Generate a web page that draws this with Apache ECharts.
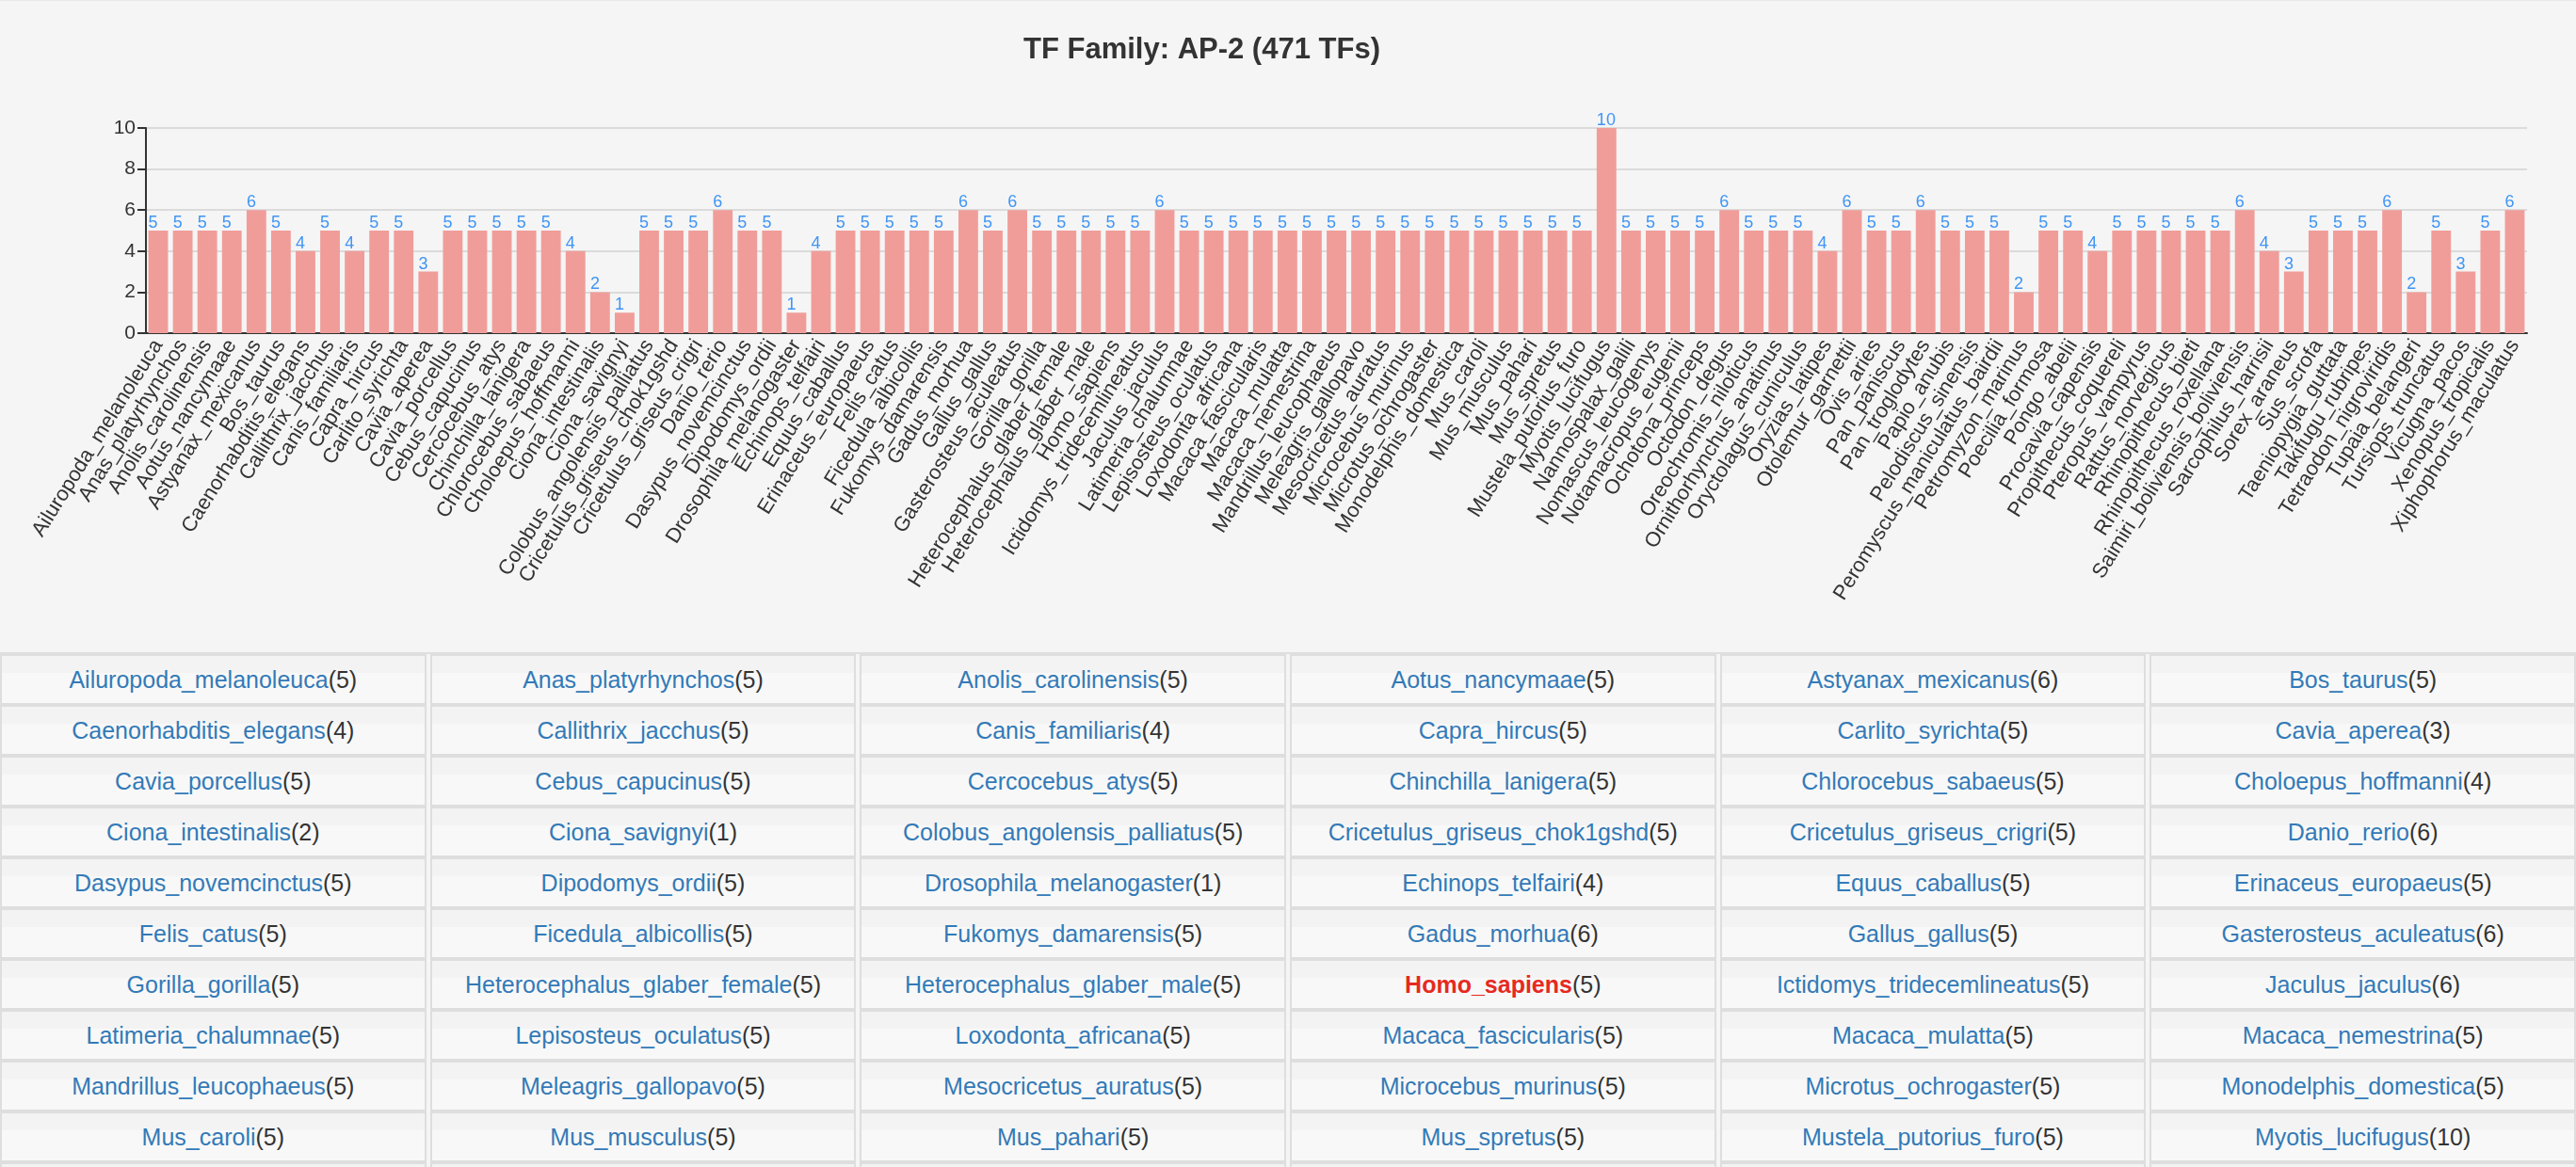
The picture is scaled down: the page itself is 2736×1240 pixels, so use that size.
<!DOCTYPE html>
<html>
<head>
<meta charset="utf-8">
<script src="https://cdn.jsdelivr.net/npm/echarts@6/dist/echarts.min.js"></script>
<style>
  html, body { margin:0; padding:0; background:#f5f5f5; overflow:hidden; width:2736px; height:1240px; }
  #chart { width:2736px; height:693px; border-top:1px solid #e8e8e8; box-sizing:border-box; }
  #tbl { width:2744px; margin-left:-4px; border-collapse:separate; border-spacing:4px 0; table-layout:fixed; border-top:2px solid #dedede; }
  #tbl td { height:54px; box-sizing:border-box; padding:0; border:2px solid #dedede; text-align:center; vertical-align:middle;
    font-family:"Liberation Sans", Arial, sans-serif; font-size:25px; color:#333;
    background:linear-gradient(to bottom, #f3f3f3 0, #f3f3f3 36%, #f8f8f8 36%, #f8f8f8 100%); white-space:nowrap; overflow:hidden; }
  #tbl td a { color:#337ab7; text-decoration:none; }
  #tbl td a.hl { color:#e52a1f; font-weight:bold; }
</style>
</head>
<body>
<div id="chart"></div>
<table id="tbl"></table>
<script>
const titleText = "TF Family: AP-2 (471 TFs)";
const categories = [
  "Ailuropoda_melanoleuca","Anas_platyrhynchos","Anolis_carolinensis","Aotus_nancymaae","Astyanax_mexicanus","Bos_taurus",
  "Caenorhabditis_elegans","Callithrix_jacchus","Canis_familiaris","Capra_hircus","Carlito_syrichta","Cavia_aperea",
  "Cavia_porcellus","Cebus_capucinus","Cercocebus_atys","Chinchilla_lanigera","Chlorocebus_sabaeus","Choloepus_hoffmanni",
  "Ciona_intestinalis","Ciona_savignyi","Colobus_angolensis_palliatus","Cricetulus_griseus_chok1gshd","Cricetulus_griseus_crigri","Danio_rerio",
  "Dasypus_novemcinctus","Dipodomys_ordii","Drosophila_melanogaster","Echinops_telfairi","Equus_caballus","Erinaceus_europaeus",
  "Felis_catus","Ficedula_albicollis","Fukomys_damarensis","Gadus_morhua","Gallus_gallus","Gasterosteus_aculeatus",
  "Gorilla_gorilla","Heterocephalus_glaber_female","Heterocephalus_glaber_male","Homo_sapiens","Ictidomys_tridecemlineatus","Jaculus_jaculus",
  "Latimeria_chalumnae","Lepisosteus_oculatus","Loxodonta_africana","Macaca_fascicularis","Macaca_mulatta","Macaca_nemestrina",
  "Mandrillus_leucophaeus","Meleagris_gallopavo","Mesocricetus_auratus","Microcebus_murinus","Microtus_ochrogaster","Monodelphis_domestica",
  "Mus_caroli","Mus_musculus","Mus_pahari","Mus_spretus","Mustela_putorius_furo","Myotis_lucifugus",
  "Nannospalax_galili","Nomascus_leucogenys","Notamacropus_eugenii","Ochotona_princeps","Octodon_degus","Oreochromis_niloticus",
  "Ornithorhynchus_anatinus","Oryctolagus_cuniculus","Oryzias_latipes","Otolemur_garnettii","Ovis_aries","Pan_paniscus",
  "Pan_troglodytes","Papio_anubis","Pelodiscus_sinensis","Peromyscus_maniculatus_bairdii","Petromyzon_marinus","Poecilia_formosa",
  "Pongo_abelii","Procavia_capensis","Propithecus_coquereli","Pteropus_vampyrus","Rattus_norvegicus","Rhinopithecus_bieti",
  "Rhinopithecus_roxellana","Saimiri_boliviensis_boliviensis","Sarcophilus_harrisii","Sorex_araneus","Sus_scrofa","Taeniopygia_guttata",
  "Takifugu_rubripes","Tetraodon_nigroviridis","Tupaia_belangeri","Tursiops_truncatus","Vicugna_pacos","Xenopus_tropicalis",
  "Xiphophorus_maculatus"
];
const values = [
  5,5,5,5,6,5,
  4,5,4,5,5,3,
  5,5,5,5,5,4,
  2,1,5,5,5,6,
  5,5,1,4,5,5,
  5,5,5,6,5,6,
  5,5,5,5,5,6,
  5,5,5,5,5,5,
  5,5,5,5,5,5,
  5,5,5,5,5,10,
  5,5,5,5,6,5,
  5,5,4,6,5,5,
  6,5,5,5,2,5,
  5,4,5,5,5,5,
  5,6,4,3,5,5,
  5,6,2,5,3,5,
  6
];
const yMin = 0, yMax = 10, yInterval = 2;
const highlightSpecies = "Homo_sapiens";
const tableColumns = 6;

const FONT = '"Liberation Sans", Arial, sans-serif';
const chartEl = document.getElementById('chart');
const chart = echarts.init(chartEl, null, {renderer:'canvas'});
const H = 693;
chart.setOption({
  animation: false,
  backgroundColor: 'transparent',
  title: {
    text: titleText, left: 1082, top: 32,
    textStyle: { fontSize: 31, fontWeight: 'bold', color: '#333', fontFamily: FONT }
  },
  grid: { left: 155, right: 52, top: 135, bottom: H - 354 },
  xAxis: {
    type: 'category', data: categories,
    axisLine: { lineStyle: { color: '#333', width: 2 } },
    axisTick: { length: 9, lineStyle: { color: '#333', width: 2 } },
    axisLabel: { interval: 0, rotate: 58, fontSize: 22, color: '#333', margin: 9, fontFamily: FONT }
  },
  yAxis: {
    type: 'value', min: yMin, max: yMax, interval: yInterval,
    axisLine: { show: true, lineStyle: { color: '#333', width: 2 } },
    axisTick: { show: true, length: 9, lineStyle: { color: '#333', width: 2 } },
    axisLabel: { fontSize: 21, color: '#333', margin: 11, fontFamily: FONT },
    splitLine: { lineStyle: { color: '#d2d2d2', width: 1.5 } }
  },
  series: [{
    type: 'bar', data: values, barCategoryGap: '20%',
    itemStyle: { color: '#f09d9a' },
    label: { show: true, position: [0, 1], align: 'left', verticalAlign: 'bottom',
      color: '#3f95f6', fontSize: 18, fontFamily: FONT }
  }]
});

const tbl = document.getElementById('tbl');
let html = '';
for (let i = 0; i < categories.length; i += tableColumns) {
  html += '<tr>';
  for (let j = 0; j < tableColumns; j++) {
    const k = i + j;
    if (k < categories.length) {
      const cls = categories[k] === highlightSpecies ? ' class="hl"' : '';
      html += '<td><a href="#"' + cls + '>' + categories[k] + '</a>(' + values[k] + ')</td>';
    } else {
      html += '<td style="visibility:hidden"></td>';
    }
  }
  html += '</tr>';
}
tbl.innerHTML = html;
</script>
</body>
</html>
